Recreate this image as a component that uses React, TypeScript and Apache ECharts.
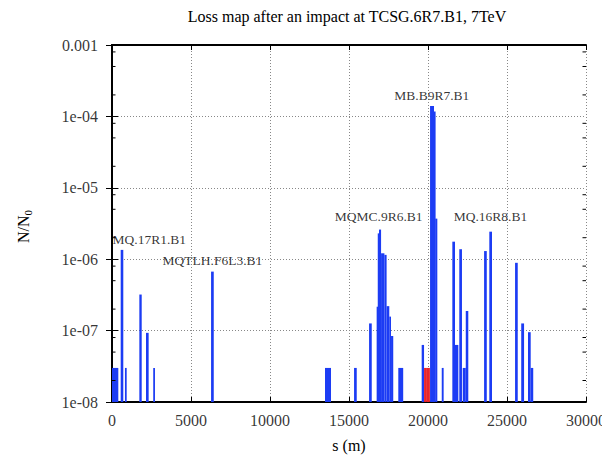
import React, { useEffect, useRef } from "react";
import * as echarts from "echarts";

const titleText = "Loss map after an impact at TCSG.6R7.B1, 7TeV";
const xName = "s (m)";
const yName = "N/N";
const yNameSub = "0";
const xMin = 0;
const xMax = 30000;
const xStep = 5000;
const xTickValues = [0, 5000, 10000, 15000, 20000, 25000, 30000];
const yMin = 1e-8;
const yMax = 1e-3;
const yTickValues = [1e-8, 1e-7, 1e-6, 1e-5, 1e-4, 1e-3];
const yTickLabels = ["1e-08", "1e-07", "1e-06", "1e-05", "1e-04", "0.001"];
const minorTickValues = [
  2e-8, 5e-8, 8e-8, 2e-7, 5e-7, 8e-7, 2e-6, 5e-6, 8e-6, 2e-5, 5e-5, 8e-5, 2e-4, 5e-4, 8e-4,
];

// blue loss bars: start s, end s, N/N0
const blueStart = [
  0, 550, 820, 1730, 2150, 2610, 6270, 13480, 15320, 16270, 16750, 16820, 16900, 17030, 17240,
  17380, 17550, 17660, 18120, 19600, 20130, 20380, 20460, 20870, 21540, 21710, 21980, 22200,
  22390, 23550, 23880, 25510, 25900, 26330, 26500,
];
const blueEnd = [
  400, 715, 930, 1880, 2320, 2720, 6440, 13860, 15490, 16440, 16820, 16900, 17030, 17240, 17380,
  17550, 17660, 17800, 18430, 19750, 20380, 20460, 20590, 20990, 21710, 21920, 22150, 22390,
  22550, 23720, 24050, 25680, 26080, 26500, 26660,
];
const blueLoss = [
  3e-8, 1.35e-6, 3e-8, 3.2e-7, 9.3e-8, 3e-8, 6.7e-7, 3e-8, 3e-8, 1.26e-7, 2.16e-7, 2.3e-6, 2.6e-6,
  1.21e-6, 1.15e-6, 2.2e-7, 1.57e-7, 8.4e-8, 3e-8, 6.3e-8, 1.4e-4, 1.17e-4, 3.7e-6, 3e-8, 1.76e-6,
  6.3e-8, 1.38e-6, 3e-8, 1.88e-7, 1.3e-6, 2.43e-6, 8.9e-7, 1.26e-7, 9.5e-8, 3e-8,
];

// red loss bars
const redStart = [19750, 19930];
const redEnd = [19930, 20120];
const redLoss = [3e-8, 3e-8];

// element annotations
const labelNames = ["MQ.17R1.B1", "MQTLH.F6L3.B1", "MQMC.9R6.B1", "MB.B9R7.B1", "MQ.16R8.B1"];
const labelS = [2360, 6360, 16880, 20240, 23950];
const labelLoss = [1.86e-6, 9.5e-7, 3.9e-6, 1.95e-4, 3.9e-6];

const FONT = "Liberation Serif";
const BLUE = "#1c3cf4";
const RED = "#e8242a";

function barSeries(starts: number[], ends: number[], vals: number[], color: string) {
  return {
    type: "custom",
    xAxisIndex: 0,
    yAxisIndex: 0,
    silent: true,
    clip: true,
    encode: { x: [0, 1], y: 2 },
    data: starts.map((s, i) => [s, ends[i], vals[i]]),
    renderItem: (params: any, api: any) => {
      const a = api.coord([api.value(0), api.value(2)]);
      const b = api.coord([api.value(1), yMin]);
      const w = Math.max(b[0] - a[0], 1.6);
      return {
        type: "rect",
        shape: { x: a[0], y: a[1], width: w, height: b[1] - a[1] },
        style: { fill: color },
      };
    },
  };
}

function textSeries(data: any[], fontSize: number, position: string, distance: number) {
  return {
    type: "scatter",
    xAxisIndex: 0,
    yAxisIndex: 0,
    silent: true,
    clip: false,
    symbolSize: 0,
    data,
    label: {
      show: true,
      position,
      distance,
      formatter: (p: any) => p.data[2],
      fontFamily: FONT,
      fontSize,
      color: "#000",
    },
    z: 10,
  };
}

export default function App() {
  const ref = useRef<HTMLDivElement>(null);
  useEffect(() => {
    if (!ref.current) return;
    const chart = echarts.init(ref.current, undefined, { renderer: "svg" });
    const axisLine = { show: true, lineStyle: { color: "#000", width: 2 } };
    const grid = { left: 104, right: 24, top: 37, bottom: 58 };
    const plotCx = grid.left + (602 - grid.left - grid.right) / 2;
    const plotCy = grid.top + (452 - grid.top - grid.bottom) / 2;
    const option: any = {
      animation: false,
      backgroundColor: "#fff",
      textStyle: { fontFamily: FONT },
      title: {
        text: titleText,
        left: 339,
        top: 0,
        padding: 0,
        textAlign: "center",
        textStyle: { fontFamily: FONT, fontSize: 16, fontWeight: "normal", color: "#000" },
      },
      grid: { ...grid, outerBoundsMode: "none" },
      graphic: [
        {
          type: "text",
          x: plotCx,
          y: 437,
          style: {
            text: xName,
            fontFamily: FONT,
            fontSize: 16,
            fill: "#000",
            align: "center",
            verticalAlign: "middle",
          },
        },
        {
          type: "text",
          x: 15,
          y: plotCy + 3,
          rotation: Math.PI / 2,
          style: {
            text: "{t|" + yName + "}{sub|" + yNameSub + "}",
            fontFamily: FONT,
            fontSize: 16,
            fill: "#000",
            align: "center",
            verticalAlign: "middle",
            rich: {
              t: { fontFamily: FONT, fontSize: 16, fill: "#000" },
              sub: { fontFamily: FONT, fontSize: 11, fill: "#000", padding: [9, 0, 0, 0] },
            },
          },
        },
      ],
      xAxis: [
        {
          type: "value",
          min: xMin,
          max: xMax,
          interval: xStep,
          position: "bottom",
          axisLine,
          axisTick: { show: true, inside: true, length: 5, lineStyle: { color: "#000" } },
          axisLabel: { show: false },
          splitLine: { show: true, lineStyle: { color: "#888", type: [1, 2], width: 1 } },
        },
        {
          type: "value",
          min: xMin,
          max: xMax,
          interval: xStep,
          position: "top",
          axisLine,
          axisTick: { show: true, inside: true, length: 5, lineStyle: { color: "#000" } },
          axisLabel: { show: false },
          splitLine: { show: false },
        },
      ],
      yAxis: [
        {
          type: "log",
          logBase: 10,
          min: yMin,
          max: yMax,
          splitNumber: 5,
          position: "left",
          axisLine,
          axisTick: { show: true, inside: true, length: 6, lineStyle: { color: "#000" } },
          axisLabel: { show: false },
          splitLine: { show: true, lineStyle: { color: "#888", type: [1, 2], width: 1 } },
        },
        {
          type: "log",
          logBase: 10,
          min: yMin,
          max: yMax,
          splitNumber: 5,
          position: "right",
          axisLine,
          axisTick: { show: true, inside: true, length: 6, lineStyle: { color: "#000" } },
          axisLabel: { show: false },
          splitLine: { show: false },
        },
      ],
      series: [
        barSeries(blueStart, blueEnd, blueLoss, BLUE),
        barSeries(redStart, redEnd, redLoss, RED),
        {
          type: "custom",
          xAxisIndex: 0,
          yAxisIndex: 0,
          silent: true,
          encode: { x: 0, y: 1 },
          data: minorTickValues.map((v) => [xMin, v]),
          renderItem: (params: any, api: any) => {
            const p = api.coord([xMin, api.value(1)]);
            const q = api.coord([xMax, api.value(1)]);
            return {
              type: "group",
              children: [
                { type: "line", shape: { x1: p[0], y1: p[1], x2: p[0] + 3.5, y2: p[1] }, style: { stroke: "#000", lineWidth: 1 } },
                { type: "line", shape: { x1: q[0] - 3.5, y1: q[1], x2: q[0], y2: q[1] }, style: { stroke: "#000", lineWidth: 1 } },
              ],
            };
          },
        },
        textSeries(
          yTickValues.map((v, i) => [xMin, v, yTickLabels[i]]),
          16,
          "left",
          14
        ),
        textSeries(
          xTickValues.map((v) => [v, yMin, String(v)]),
          16,
          "bottom",
          10
        ),
        textSeries(
          labelNames.map((n, i) => [labelS[i], labelLoss[i], n]),
          13.5,
          "inside",
          0
        ),
      ],
    };
    chart.setOption(option);
    return () => chart.dispose();
  }, []);
  return <div ref={ref} style={{ width: 602, height: 452 }} />;
}
